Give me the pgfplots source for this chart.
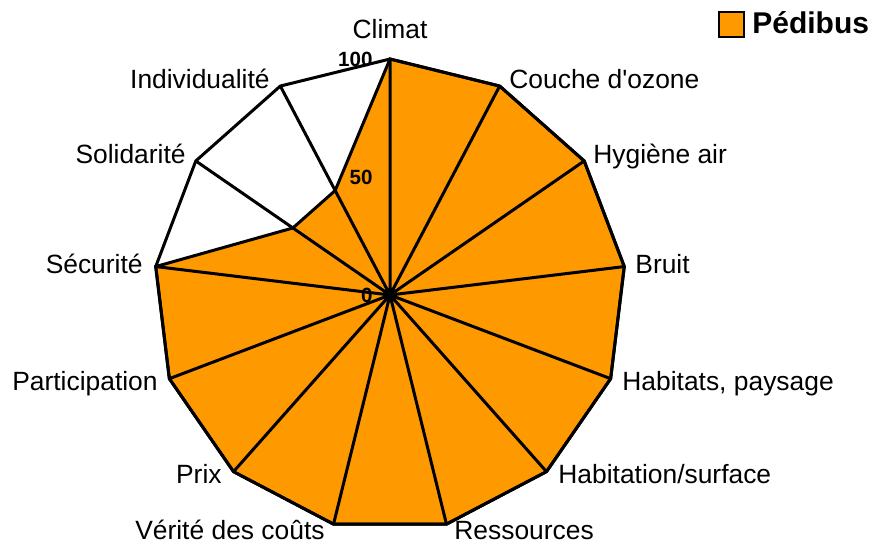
\documentclass[border=0pt]{standalone}
\usepackage{fontspec}
\setmainfont{Liberation Sans}[Ligatures=TeXOff]
\usepackage{pgfplots}
\pgfplotsset{compat=1.18}
\definecolor{pedibus}{HTML}{FF9900}
\begin{document}
\begin{tikzpicture}
\useasboundingbox (0,0) rectangle (436.5pt,-271.5pt);
\begin{axis}[
  at={(195pt,-147.5pt)}, anchor=center,
  scale only axis, width=236pt, height=236pt,
  xmin=-100, xmax=100, ymin=-100, ymax=100,
  hide axis, clip=false,
  legend style={at={(axis cs:136.2,114.8)}, anchor=west, draw=none, fill=none,
    font=\bfseries\fontsize{15}{17}\selectfont, nodes={inner sep=1pt}},
  legend image code/.code={\draw[fill=pedibus, draw=black, line width=1pt] (0pt,-6.25pt) rectangle (12.5pt,6.25pt); \path (15pt,0pt);},
]
% Pedibus series (angle, value)
\addplot[data cs=polar, fill=pedibus, draw=black, line width=1.5pt] coordinates {
  (90,100) (62.3077,100) (34.6154,100) (6.9231,100) (-20.7692,100)
  (-48.4615,100) (-76.1538,100) (-103.8462,100) (-131.5385,100)
  (-159.2308,100) (-186.9231,100) (-214.6154,50) (-242.3077,50)
} --cycle;
\addlegendentry{Pédibus}
% outer grid polygon
\addplot[data cs=polar, draw=black, line width=1.5pt, forget plot] coordinates {
  (90,100) (62.3077,100) (34.6154,100) (6.9231,100) (-20.7692,100)
  (-48.4615,100) (-76.1538,100) (-103.8462,100) (-131.5385,100)
  (-159.2308,100) (-186.9231,100) (-214.6154,100) (-242.3077,100)
} --cycle;
% spokes
\addplot[data cs=polar, draw=black, line width=1.5pt, forget plot] coordinates {
  (0,0) (90,100) (0,0) (62.3077,100) (0,0) (34.6154,100) (0,0) (6.9231,100)
  (0,0) (-20.7692,100) (0,0) (-48.4615,100) (0,0) (-76.1538,100)
  (0,0) (-103.8462,100) (0,0) (-131.5385,100) (0,0) (-159.2308,100)
  (0,0) (-186.9231,100) (0,0) (-214.6154,100) (0,0) (-242.3077,100) (0,0)
};
\begin{scope}[every node/.style={anchor=east, inner sep=0pt, font=\bfseries\fontsize{10.3}{12}\selectfont}]
\node at ([xshift=-8.5pt]axis cs:0,0) {0};
\node at ([xshift=-8.5pt]axis cs:0,50) {50};
\node at ([xshift=-8.5pt]axis cs:0,100) {100};
\end{scope}
\end{axis}
\begin{scope}[x=0.5pt, y=-0.5pt, every node/.style={inner sep=0pt, font=\fontsize{13.2}{15}\selectfont}]
\node[anchor=base] at (390,38) {Climat};
\node[anchor=base west] at (509,88) {Couche d'ozone};
\node[anchor=base west] at (593,163) {Hygiène air};
\node[anchor=base west] at (635,273) {Bruit};
\node[anchor=base west] at (622,390) {Habitats, paysage};
\node[anchor=base west] at (558,483) {Habitation/surface};
\node[anchor=base west] at (454,539) {Ressources};
\node[anchor=base east] at (325,539) {Vérité des coûts};
\node[anchor=base east] at (222,483) {Prix};
\node[anchor=base east] at (158,390) {Participation};
\node[anchor=base east] at (143,273) {Sécurité};
\node[anchor=base east] at (186,163) {Solidarité};
\node[anchor=base east] at (270,88) {Individualité};
\end{scope}
\end{tikzpicture}
\end{document}
